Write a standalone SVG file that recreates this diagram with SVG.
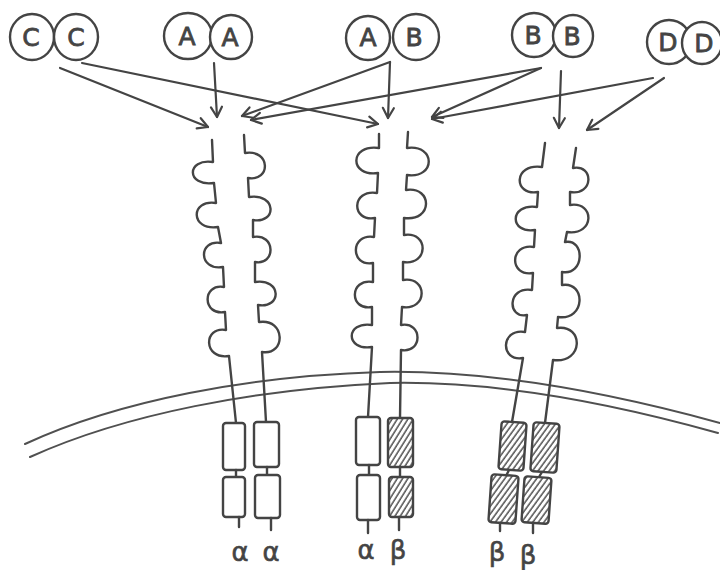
<svg xmlns="http://www.w3.org/2000/svg" width="720" height="570" viewBox="0 0 720 570">
  <style>
    .ink { fill: none; stroke: #444; stroke-width: 2.4; stroke-linecap: round; stroke-linejoin: round; }
    .mem { fill: none; stroke: #505050; stroke-width: 2; stroke-linecap: round; }
    .arrow { fill: none; stroke: #444; stroke-width: 2.2; stroke-linecap: round; marker-end: url(#head); }
    .ring { fill: #fff; stroke: #444; stroke-width: 2.4; }
    .box { fill: #fff; stroke: #444; stroke-width: 2.4; }
    .hbox { fill: url(#hatch); stroke: #444; stroke-width: 2.4; }
    .lig { font-family: "DejaVu Sans", "Liberation Sans", sans-serif; font-size: 25px; fill: #444; stroke: #444; stroke-width: 0.8; text-anchor: middle; }
    .sub { font-family: "DejaVu Sans", "Liberation Sans", sans-serif; font-size: 26px; fill: #444; stroke: #444; stroke-width: 0.6; text-anchor: middle; }
  </style>
  <defs>
    <marker id="head" markerUnits="userSpaceOnUse" markerWidth="16" markerHeight="16" refX="13" refY="8" orient="auto">
      <path d="M3,2.5 L13,8 L3,13.5" fill="none" stroke="#444" stroke-width="2.2" stroke-linecap="round" stroke-linejoin="round"/>
    </marker>
    <pattern id="hatch" patternUnits="userSpaceOnUse" width="4.5" height="4.5" patternTransform="rotate(32)">
      <rect width="4.5" height="4.5" fill="#fff"/>
      <line x1="1" y1="-1" x2="1" y2="6" stroke="#444" stroke-width="1.4"/>
    </pattern>
  </defs>

  <rect width="720" height="570" fill="#fff"/>

  <!-- cell membrane (double line) -->
  <g id="membrane">
    <path class="mem" d="M25,444 C120,400 250,376 380,372 C480,370 600,390 720,423"/>
    <path class="mem" d="M30,457 C125,414 255,389 390,383 C490,381 600,400 718,433"/>
  </g>

  <!-- ligand dimers -->
  <g id="ligand-CC">
    <ellipse class="ring" cx="32" cy="37" rx="22" ry="23"/>
    <ellipse class="ring" cx="76" cy="37" rx="22" ry="23"/>
    <text class="lig" x="31" y="46">C</text>
    <text class="lig" x="76" y="46">C</text>
  </g>
  <g id="ligand-AA">
    <ellipse class="ring" cx="188" cy="36" rx="24" ry="23"/>
    <ellipse class="ring" cx="231" cy="37" rx="21" ry="22"/>
    <text class="lig" x="187" y="45">A</text>
    <text class="lig" x="230" y="46">A</text>
  </g>
  <g id="ligand-AB">
    <ellipse class="ring" cx="368" cy="38" rx="22" ry="22"/>
    <ellipse class="ring" cx="416" cy="37" rx="23" ry="23"/>
    <text class="lig" x="368" y="46">A</text>
    <text class="lig" x="414" y="46">B</text>
  </g>
  <g id="ligand-BB">
    <ellipse class="ring" cx="534" cy="35" rx="22" ry="22"/>
    <ellipse class="ring" cx="573" cy="36" rx="20" ry="21"/>
    <text class="lig" x="533" y="44">B</text>
    <text class="lig" x="572" y="45">B</text>
  </g>
  <g id="ligand-DD">
    <ellipse class="ring" cx="669" cy="42" rx="22" ry="22"/>
    <ellipse class="ring" cx="702" cy="43" rx="20" ry="21"/>
    <text class="lig" x="668" y="51">D</text>
    <text class="lig" x="704" y="52">D</text>
  </g>

  <!-- ligand binding arrows -->
  <g id="connectors">
    <path class="arrow" d="M60,68 L208,127"/>
    <path class="arrow" d="M82,63 L378,124"/>
    <path class="arrow" d="M214,63 L217,117"/>
    <path class="arrow" d="M390,62 L242,116"/>
    <path class="arrow" d="M390,62 L388,118"/>
    <path class="arrow" d="M541,68 L251,120"/>
    <path class="arrow" d="M541,68 L432,117"/>
    <path class="arrow" d="M561,71 L559,128"/>
    <path class="arrow" d="M653,78 L432,119"/>
    <path class="arrow" d="M664,78 L587,130"/>
  </g>

  <!-- receptor dimer: alpha / alpha -->
  <g id="receptor-aa">
    <path class="ink" d="M212,140 L213,162 C186,158 186,187 214,183 L216,203 C190,199 190,231 218,227 L221,243 C198,239 198,271 223,267 L224,287 C202,283 202,316 225,312 L226,330 C203,326 203,360 229,356 L236,423"/>
    <path class="ink" d="M244,135 L245,153 C271,149 271,182 248,178 L249,197 C277,193 277,224 253,220 L253,237 C276,233 276,266 255,262 L255,282 C282,278 282,309 258,305 L259,322 C286,318 286,356 262,352 L266,422"/>
    <rect class="box" x="223" y="423" width="22" height="47" rx="3"/>
    <line class="ink" x1="236" y1="470" x2="236" y2="477"/>
    <rect class="box" x="223" y="477" width="22" height="40" rx="3"/>
    <line class="ink" x1="239" y1="517" x2="239" y2="527"/>
    <rect class="box" x="254" y="422" width="25" height="45" rx="3"/>
    <line class="ink" x1="267" y1="467" x2="267" y2="475"/>
    <rect class="box" x="255" y="475" width="25" height="43" rx="3"/>
    <line class="ink" x1="271" y1="518" x2="271" y2="530"/>
  </g>

  <!-- receptor dimer: alpha / beta -->
  <g id="receptor-ab">
    <path class="ink" d="M379,134 L379,148 C349,144 349,177 378,173 L377,193 C351,189 351,222 375,218 L374,237 C350,233 350,267 373,263 L373,282 C349,278 349,311 372,307 L372,325 C345,321 345,351 372,347 L368,417"/>
    <path class="ink" d="M408,132 L407,148 C436,144 436,179 407,175 L406,190 C433,186 433,222 404,218 L404,235 C429,231 429,266 403,262 L403,280 C428,276 428,311 402,307 L401,325 C423,321 423,354 401,350 L400,418"/>
    <rect class="box" x="356" y="417" width="24" height="48" rx="3"/>
    <line class="ink" x1="369" y1="465" x2="369" y2="475"/>
    <rect class="box" x="357" y="475" width="23" height="45" rx="3"/>
    <line class="ink" x1="368" y1="520" x2="368" y2="533"/>
    <rect class="hbox" x="388" y="418" width="25" height="49" rx="3"/>
    <line class="ink" x1="400" y1="467" x2="400" y2="477"/>
    <rect class="hbox" x="389" y="477" width="24" height="40" rx="3"/>
    <line class="ink" x1="399" y1="517" x2="399" y2="530"/>
  </g>

  <!-- receptor dimer: beta / beta -->
  <g id="receptor-bb">
    <path class="ink" d="M545,143 L542,167 C513,163 513,196 538,192 L537,207 C509,203 509,234 535,230 L534,247 C509,243 509,277 533,273 L532,290 C507,286 507,319 527,315 L525,332 C500,328 500,362 523,358 L512,422"/>
    <path class="ink" d="M576,148 L573,168 C594,164 594,196 570,192 L570,205 C595,201 595,236 567,232 L565,242 C585,238 585,276 562,272 L562,285 C586,281 586,321 558,317 L557,328 C584,324 584,364 553,360 L545,423"/>
    <rect class="hbox" x="500" y="422" width="25" height="48" rx="3" transform="rotate(4 512 446)"/>
    <line class="ink" x1="509" y1="470" x2="506" y2="476"/>
    <rect class="hbox" x="490" y="475" width="27" height="48" rx="3" transform="rotate(4 503 499)"/>
    <line class="ink" x1="500" y1="523" x2="500" y2="531"/>
    <rect class="hbox" x="532" y="423" width="26" height="49" rx="3" transform="rotate(4 545 447)"/>
    <line class="ink" x1="542" y1="472" x2="539" y2="477"/>
    <rect class="hbox" x="523" y="477" width="27" height="46" rx="3" transform="rotate(4 536 500)"/>
    <line class="ink" x1="533" y1="523" x2="533" y2="533"/>
  </g>

  <!-- subunit labels -->
  <g id="labels">
    <text class="sub" x="240" y="561">α</text>
    <text class="sub" x="271" y="561">α</text>
    <text class="sub" x="366" y="559">α</text>
    <text class="sub" x="398" y="559">β</text>
    <text class="sub" x="497" y="561">β</text>
    <text class="sub" x="528" y="564">β</text>
  </g>
</svg>
